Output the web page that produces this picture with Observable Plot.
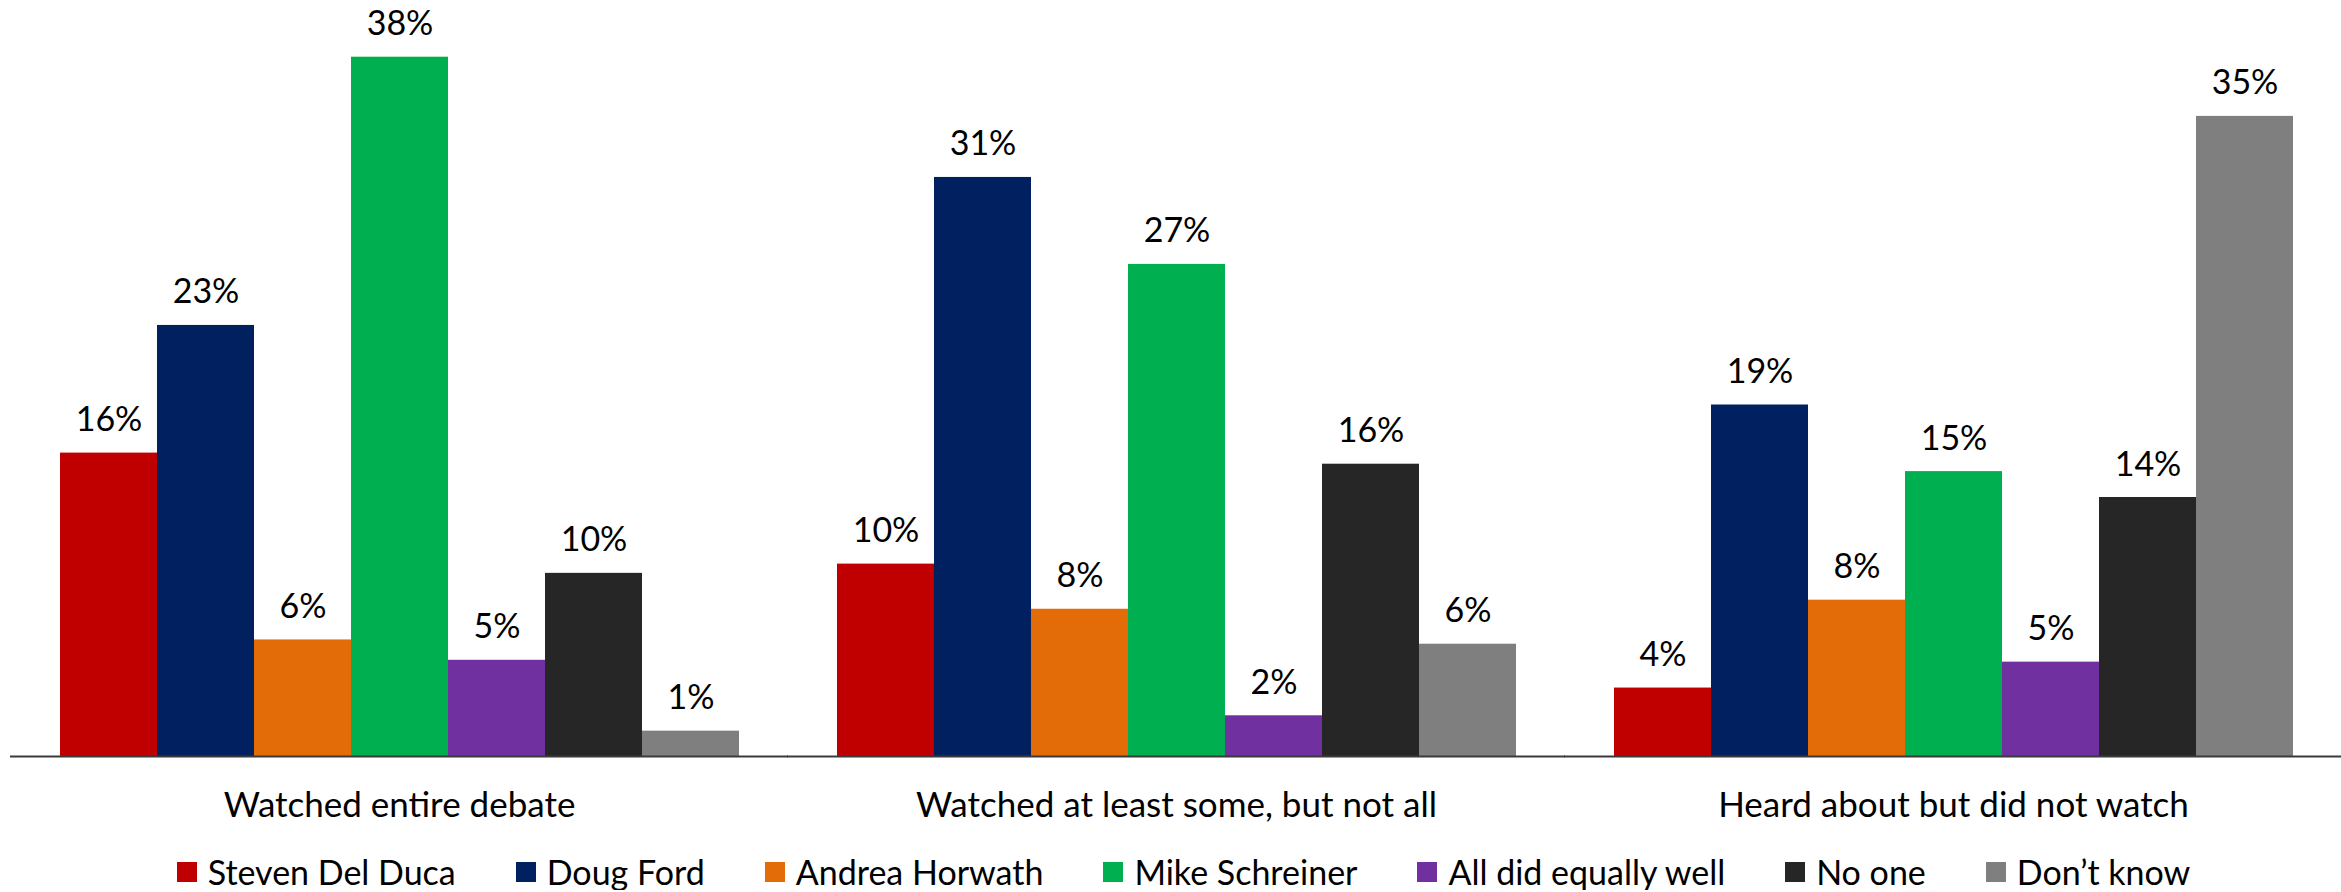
<!DOCTYPE html>
<html>
<head>
<meta charset="utf-8">
<script src="https://cdn.jsdelivr.net/npm/d3@7"></script>
<script src="https://cdn.jsdelivr.net/npm/@observablehq/plot@0.6"></script>
<style>
  html, body { margin: 0; padding: 0; background: #fff; }
  #chart { width: 2341px; }
  .legend { display: flex; justify-content: center; align-items: center; gap: 60px;
            font-family: Lato, sans-serif; font-size: 34px; color: #000;
            padding-top: 14px; padding-left: 26px; line-height: 36px; }
  .legend .item { display: flex; align-items: center; white-space: nowrap; }
  .legend .sw { width: 20px; height: 20px; margin-right: 11px; display: inline-block; }
</style>
</head>
<body>
<div id="chart"></div>
<script>
const groups = ["Watched entire debate", "Watched at least some, but not all", "Heard about but did not watch"];
const series = ["Steven Del Duca", "Doug Ford", "Andrea Horwath", "Mike Schreiner", "All did equally well", "No one", "Don\u2019t know"];
const colors = ["#C00000", "#002060", "#E36C09", "#00B050", "#7030A0", "#262626", "#7F7F7F"];

// bar heights (labels are the rounded figures printed on the chart)
const watchedEntire = [16.4, 23.3, 6.3, 37.8, 5.2, 9.9, 1.37];
const watchedSome   = [10.4, 31.3, 7.96, 26.6, 2.2, 15.8, 6.07];
const heardAbout    = [3.7, 19.0, 8.45, 15.4, 5.1, 14.0, 34.6];

const labelsEntire = ["16%", "23%", "6%", "38%", "5%", "10%", "1%"];
const labelsSome   = ["10%", "31%", "8%", "27%", "2%", "16%", "6%"];
const labelsHeard  = ["4%", "19%", "8%", "15%", "5%", "14%", "35%"];

const valueSets = [watchedEntire, watchedSome, heardAbout];
const labelSets = [labelsEntire, labelsSome, labelsHeard];

const data = [];
groups.forEach((g, gi) => series.forEach((s, si) => {
  data.push({group: g, series: s, value: valueSets[gi][si], label: labelSets[gi][si]});
}));

const font = "Lato, sans-serif";

const chart = Plot.plot({
  width: 2341,
  height: 840,
  marginTop: 16,
  marginBottom: 84,
  marginLeft: 10,
  marginRight: 0,
  style: {fontFamily: font, background: "#fff", color: "#000"},
  fx: {domain: groups, paddingInner: 0.125, paddingOuter: 0.0625, axis: null},
  x: {domain: series, padding: 0, axis: null},
  y: {domain: [0, 40], axis: null},
  color: {domain: series, range: colors},
  marks: [
    Plot.barY(data, {fx: "group", x: "series", y: "value", fill: "series"}),
    Plot.text(data, {fx: "group", x: "series", y: "value", text: "label",
      lineAnchor: "bottom", dy: -22, fontSize: 34, fill: "#000"}),
    Plot.ruleY([0], {stroke: "#3a3a3a", strokeWidth: 2, insetLeft: -49, insetRight: -49}),
    Plot.axisFx({anchor: "bottom", tickSize: 0, tickPadding: 36, fontSize: 35, label: null, fill: "#000"})
  ]
});
document.getElementById("chart").appendChild(chart);

const legend = document.createElement("div");
legend.className = "legend";
series.forEach((s, i) => {
  const item = document.createElement("span");
  item.className = "item";
  const sw = document.createElement("span");
  sw.className = "sw";
  sw.style.background = colors[i];
  item.appendChild(sw);
  item.appendChild(document.createTextNode(s));
  legend.appendChild(item);
});
document.getElementById("chart").appendChild(legend);
</script>
</body>
</html>
